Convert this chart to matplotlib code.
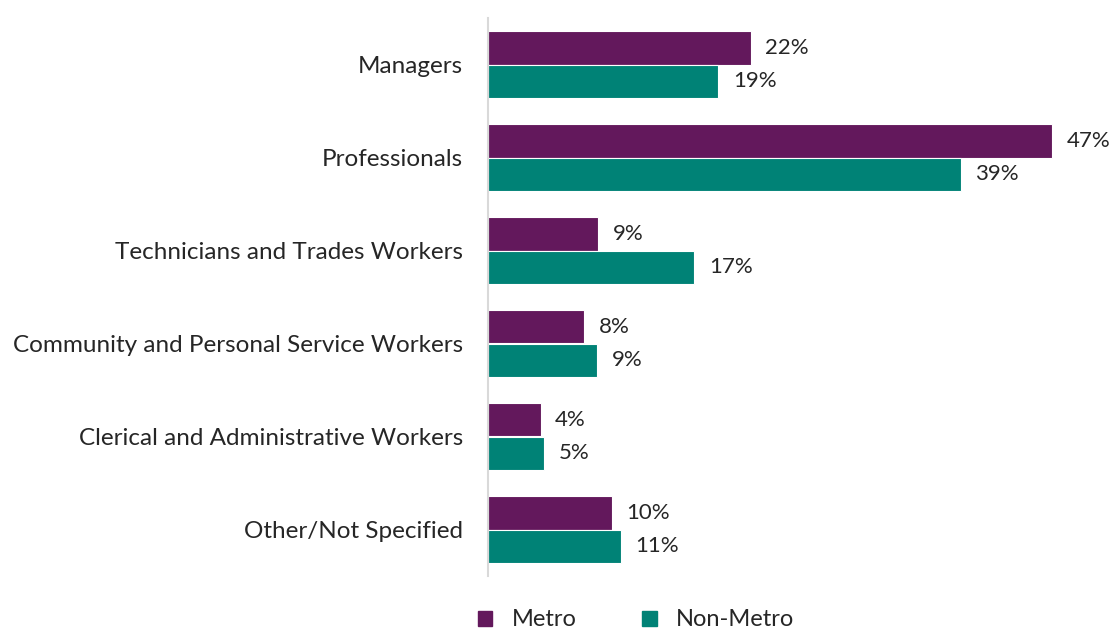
import numpy as np
import matplotlib
matplotlib.use('Agg')
import matplotlib.pyplot as plt
from matplotlib.patches import Patch

categories = ['Managers', 'Professionals', 'Technicians and Trades Workers',
              'Community and Personal Service Workers',
              'Clerical and Administrative Workers', 'Other/Not Specified']
metro = [21.9, 47.0, 9.2, 8.0, 4.4, 10.3]
non_metro = [19.2, 39.4, 17.2, 9.1, 4.7, 11.1]
series_names = ['Metro', 'Non-Metro']

purple = '#63185C'
teal = '#008276'

plt.rcParams['font.family'] = ['Lato', 'DejaVu Sans']

fig = plt.figure(figsize=(11.1, 6.33), dpi=100)
ax = fig.add_axes([488 / 1110, 1 - 576 / 633, 600 / 1110, 558 / 633])

y = np.arange(len(categories))
h = 0.355
b1 = ax.barh(y - h / 2, metro, height=h, color=purple, edgecolor='white', linewidth=0.8)
b2 = ax.barh(y + h / 2, non_metro, height=h, color=teal, edgecolor='white', linewidth=0.8)

# value labels to the right of each bar
for bars, vals in [(b1, metro), (b2, non_metro)]:
    for bar, v in zip(bars, vals):
        ax.text(v + 1.2, bar.get_y() + bar.get_height() / 2, f'{v:.0f}%',
                va='center', ha='left', fontsize=16, color='#262626')

ax.set_xlim(0, 50)
ax.set_ylim(len(categories) - 0.5, -0.5)
ax.set_yticks(y)
ax.set_yticklabels(categories, fontsize=17.5, color='#262626')
ax.set_xticks([])
ax.tick_params(axis='y', length=0, pad=18)
for s in ['top', 'right', 'bottom']:
    ax.spines[s].set_visible(False)
ax.spines['left'].set_color('#D9D9D9')
ax.spines['left'].set_linewidth(1.5)

handles = [Patch(color=purple), Patch(color=teal)]
fig.legend(handles, series_names, loc='center', bbox_to_anchor=(636 / 1110, 1 - 620 / 633),
           ncol=2, frameon=False, fontsize=17, handlelength=0.6, handleheight=0.6,
           columnspacing=2.8, handletextpad=0.8, labelcolor='#262626',
           borderpad=0.2)

fig.savefig('out.png', dpi=100)
